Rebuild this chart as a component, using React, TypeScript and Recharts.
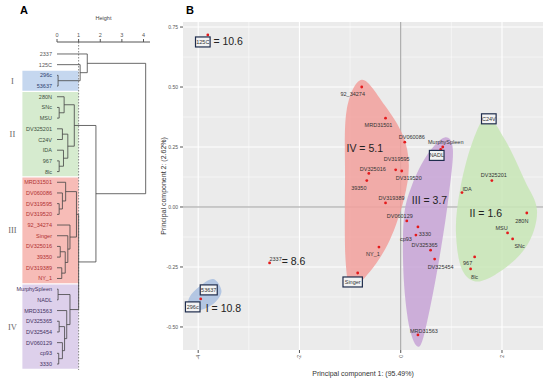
import React from "react";
import {
  ScatterChart,
  Scatter,
  XAxis,
  YAxis,
  CartesianGrid,
  ReferenceArea,
  ReferenceLine,
} from "recharts";

// ---- panel A: dendrogram ----
const leafNames = [
  "2337", "125C", "296c", "53637",
  "280N", "SNc", "MSU", "DV325201", "C24V", "IDA", "967", "8lc",
  "MRD31501", "DV060086", "DV319595", "DV319520", "92_34274", "Singer",
  "DV325016", "39350", "DV319389", "NY_1",
  "MurphySpleen", "NADL", "MRD31563", "DV325365", "DV325454", "DV060129", "cp93", "3330",
];

// hclust-like merges: leaf name or index of an earlier merge, then merge height
const merges: [string | number, string | number, number][] = [
  ["296c", "53637", 0.05], // 0
  ["125C", 0, 1.07], // 1
  ["2337", 1, 1.4], // 2
  ["SNc", "MSU", 0.1], // 3
  ["280N", 3, 0.33], // 4
  ["DV325201", "C24V", 0.25], // 5
  ["967", "8lc", 0.1], // 6
  ["IDA", 6, 0.3], // 7
  [5, 7, 0.5], // 8
  [4, 8, 0.8], // 9
  ["DV319595", "DV319520", 0.1], // 10
  ["DV060086", 10, 0.25], // 11
  ["MRD31501", 11, 0.4], // 12
  ["DV325016", "39350", 0.15], // 13
  ["DV319389", "NY_1", 0.22], // 14
  [13, 14, 0.38], // 15
  ["Singer", 15, 0.5], // 16
  ["92_34274", 16, 0.6], // 17
  [12, 17, 0.9], // 18
  ["MurphySpleen", "NADL", 0.05], // 19
  ["DV325365", "DV325454", 0.1], // 20
  ["cp93", "3330", 0.08], // 21
  ["DV060129", 21, 0.25], // 22
  [20, 22, 0.35], // 23
  ["MRD31563", 23, 0.45], // 24
  [19, 24, 0.6], // 25
  [18, 25, 1.0], // 26
  [9, 26, 1.8], // 27
  [2, 27, 4.1], // 28
];

const heightTicks = [0, 1, 2, 3, 4];
const bandNames = ["I", "II", "III", "IV"];
const bandFirst = ["296c", "280N", "MRD31501", "MurphySpleen"];
const bandLast = ["53637", "8lc", "NY_1", "3330"];
const cutHeight = 1;

// ---- panel B: PCA ----
const pcaNames = [
  "125C", "92_34274", "MRD31501", "DV060086", "MurphySpleen", "NADL", "DV319595",
  "DV325016", "DV319520", "39350", "C24V", "DV325201", "IDA", "DV319389", "DV060129",
  "3330", "cp93", "DV325365", "DV325454", "NY_1", "Singer", "MRD31563", "280N", "MSU",
  "SNc", "967", "8lc", "2337", "53637", "296c",
];
const pc1 = [
  -3.81, -0.77, -0.3, 0.08, 0.83, 0.79, -0.1,
  -0.63, 0.02, -0.67, 1.74, 1.8, 1.21, -0.3, 0.12,
  0.34, 0.3, 0.59, 0.67, -0.43, -0.85, 0.34, 2.49, 2.11,
  2.21, 1.46, 1.38, -2.59, -3.93, -3.95,
];
const pc2 = [
  0.717, 0.5, 0.37, 0.27, 0.25, 0.24, 0.155,
  0.14, 0.15, 0.11, 0.355, 0.11, 0.06, 0.017, -0.058,
  -0.083, -0.117, -0.18, -0.217, -0.167, -0.275, -0.533, -0.025, -0.108,
  -0.133, -0.208, -0.258, -0.233, -0.358, -0.383,
];
const boxedNames = ["125C", "53637", "296c", "Singer", "NADL", "C24V"];

const hullIV: [number, number][] = [
  [-0.77, 0.53], [-0.32, 0.425], [0.04, 0.3], [0.16, 0.175], [0.06, 0.03], [-0.22, -0.14],
  [-0.61, -0.27], [-0.97, -0.33], [-1.09, -0.22], [-1.1, 0.11], [-1.07, 0.4],
];
const hullIII: [number, number][] = [
  [0.87, 0.29], [1.03, 0.24], [0.95, 0.05], [0.79, -0.18], [0.57, -0.43], [0.375, -0.58],
  [0.18, -0.51], [0.06, -0.3], [0.06, -0.05], [0.22, 0.09], [0.53, 0.22],
];
const hullII: [number, number][] = [
  [1.7, 0.375], [2.06, 0.28], [2.45, 0.11], [2.69, -0.01], [2.55, -0.14], [2.15, -0.24],
  [1.56, -0.31], [1.21, -0.26], [1.09, -0.1], [1.17, 0.07], [1.4, 0.26],
];
const hullI: [number, number][] = [
  [-3.7, -0.3], [-3.54, -0.35], [-3.68, -0.4], [-3.97, -0.43], [-4.19, -0.42], [-4.17, -0.375], [-3.97, -0.33],
];

const noteText = ["= 10.6", "= 8.6", "I = 10.8", "IV = 5.1", "III = 3.7", "II = 1.6"];
const noteX = [-3.7, -2.35, -3.85, -1.07, 0.22, 1.36];
const noteY = [0.69, -0.225, -0.42, 0.245, 0.03, -0.025];

const pc1Ticks = [-4, -2, 0, 2];
const pc1Minor = [-3, -1, 1];
const pc2Ticks = [-0.5, -0.25, 0, 0.25, 0.5, 0.75];
const pc2Minor = [-0.375, -0.125, 0.125, 0.375, 0.625];

// styles
const bandFill = ["#c5d7ef", "#d6ebcf", "#f7bcb7", "#ddd0eb"];
const bandText = ["#2c3e6e", "#3d4f3d", "#b03030", "#43305f"];
const hullFill = ["#a9c0e0", "#c8e6b6", "#c7a3d6", "#f2a09c"];
const labelOffset: Record<string, [number, number]> = {
  "125C": [-5, 7], "92_34274": [-9, 7], MRD31501: [-7, 7], DV060086: [7, -5],
  MurphySpleen: [3, -5], NADL: [-4, 6], DV319595: [1, -11], DV325016: [4, -4],
  DV319520: [7, 7], "39350": [-8, 7], C24V: [0, -3], DV325201: [2, -6], IDA: [5, -4],
  DV319389: [6, -5], DV060129: [-7, -5], "3330": [7, 7], cp93: [-10, 4],
  DV325365: [-6, -5], DV325454: [6, 8], NY_1: [-6, 7], Singer: [-5, 9],
  MRD31563: [6, -4], "280N": [-5, 8], MSU: [-6, -5], SNc: [7, 7], "967": [-7, 6],
  "8lc": [4, 8], "2337": [6, -4], "53637": [7, -3], "296c": [-8, 8],
};
const font = "'Liberation Sans Narrow', 'Liberation Sans', Arial, sans-serif";

// dendrogram geometry from merges
const nodeY: number[] = [];
const refY = (r: string | number) => (typeof r === "string" ? leafNames.indexOf(r) : nodeY[r]);
const refH = (r: string | number) => (typeof r === "string" ? 0 : merges[r][2]);
merges.forEach(([a, b], i) => {
  nodeY[i] = (refY(a) + refY(b)) / 2;
});
const segments = merges.map(([a, b, h]) => [
  { h: refH(a), y: refY(a) },
  { h, y: refY(a) },
  { h, y: refY(b) },
  { h: refH(b), y: refY(b) },
]);
const leafBand = (i: number) =>
  bandFirst.findIndex((f, k) => i >= leafNames.indexOf(f) && i <= leafNames.indexOf(bandLast[k]));

const closedSpline = (pts: { x: number; y: number }[]) => {
  const n = pts.length;
  let d = `M${pts[0].x},${pts[0].y}`;
  for (let i = 0; i < n; i++) {
    const p0 = pts[(i - 1 + n) % n];
    const p1 = pts[i];
    const p2 = pts[(i + 1) % n];
    const p3 = pts[(i + 2) % n];
    d += ` C${p1.x + (p2.x - p0.x) / 6},${p1.y + (p2.y - p0.y) / 6} ${p2.x - (p3.x - p1.x) / 6},${p2.y - (p3.y - p1.y) / 6} ${p2.x},${p2.y}`;
  }
  return d + "Z";
};

const LeafTick = ({ x, y, payload }: any) => {
  const b = leafBand(payload.value);
  return (
    <text x={x} y={y} textAnchor="end" dominantBaseline="central" fontSize={5.5}
      fill={b >= 0 ? bandText[b] : "#555"}>
      {leafNames[payload.value]}
    </text>
  );
};

const RotTick = ({ x, y, payload }: any) => (
  <text transform={`translate(${x},${y}) rotate(-90)`} textAnchor="end" dominantBaseline="central"
    fontSize={5} fill="#555">
    {payload.value}
  </text>
);

const BandLabel = ({ viewBox, value }: any) => (
  <text x={viewBox.x - 10} y={viewBox.y + viewBox.height / 2} textAnchor="middle"
    dominantBaseline="central" fontSize={8.5}
    style={{ fill: "#6a6a6a", fontFamily: "'Liberation Serif', 'DejaVu Serif', serif" }}>
    {value}
  </text>
);

const PointMark = ({ cx, cy, payload }: any) => {
  const [dx, dy] = labelOffset[payload.name] || [0, -5];
  const boxed = boxedNames.includes(payload.name);
  const w = payload.name.length * 2.4 + 5;
  return (
    <g>
      <circle cx={cx} cy={cy} r={1.4} fill="#e41a1c" />
      {boxed && (
        <rect x={cx + dx - w / 2} y={cy + dy - 5} width={w} height={10} fill="#f3f3f3"
          stroke="#1f2d4d" strokeWidth={1.2} />
      )}
      <text x={cx + dx} y={cy + dy} textAnchor="middle" dominantBaseline="central" fontSize={5.5}
        fill="#333">
        {payload.name}
      </text>
    </g>
  );
};

const NoteMark = ({ cx, cy, payload }: any) => (
  <text x={cx} y={cy} dominantBaseline="central" fontSize={10.5} fill="#222">
    {payload.text}
  </text>
);

const hulls = [hullI, hullII, hullIII, hullIV];

export default function App() {
  const points = pcaNames.map((name, i) => ({ x: pc1[i], y: pc2[i], name }));
  const notes = noteText.map((text, i) => ({ x: noteX[i], y: noteY[i], text }));
  return (
    <div style={{ position: "absolute", left: 0, top: 0, width: 550, height: 379, background: "#fff", fontFamily: font }}>
      <div style={{ position: "absolute", left: 20, top: 4, fontSize: 11, fontWeight: "bold", fontFamily: "Arial, sans-serif" }}>A</div>
      <div style={{ position: "absolute", left: 186, top: 4, fontSize: 11, fontWeight: "bold", fontFamily: "Arial, sans-serif" }}>B</div>

      <div style={{ position: "absolute", left: 0, top: 0 }}>
        <ScatterChart width={160} height={379} margin={{ top: 12, right: 10, bottom: 9, left: 0 }}>
          {bandNames.map((name, k) => (
            <ReferenceArea key={name} x1={-1.6} x2={cutHeight}
              y1={leafNames.indexOf(bandFirst[k]) - 0.44} y2={leafNames.indexOf(bandLast[k]) + 0.44}
              fill={bandFill[k]} fillOpacity={1} stroke="none" ifOverflow="visible"
              label={(p: any) => <BandLabel {...p} value={name} />} />
          ))}
          <XAxis type="number" dataKey="h" orientation="top" domain={[0, 4.3]} ticks={heightTicks}
            height={30} tickSize={3} tick={{ fontSize: 5.5, fill: "#555" }}
            axisLine={{ stroke: "#555" }} tickLine={{ stroke: "#555" }}
            label={{ value: "Height", position: "insideTop", offset: 4, fontSize: 5.5, fill: "#444" }} />
          <YAxis type="number" dataKey="y" domain={[-1.12, 29.56]} reversed ticks={leafNames.map((_, i) => i)}
            interval={0} width={57} tickSize={4} tickMargin={1} axisLine={false} tickLine={false}
            tick={<LeafTick />} />
          <ReferenceLine x={cutHeight} stroke="#888" strokeDasharray="1.5 1.5" />
          {segments.map((seg, i) => (
            <Scatter key={i} data={seg} shape={() => <g />} line={{ stroke: "#444", strokeWidth: 0.8 }}
              isAnimationActive={false} />
          ))}
        </ScatterChart>
      </div>

      <div style={{ position: "absolute", left: 150, top: 0 }}>
        <ScatterChart width={400} height={379} margin={{ top: 22, right: 7, bottom: 0, left: 0 }}>
          <CartesianGrid fill="#ebebeb" stroke="#fff" strokeWidth={1.1}
            verticalValues={pc1Ticks} horizontalValues={pc2Ticks} />
          <CartesianGrid stroke="#fff" strokeWidth={0.5} verticalValues={pc1Minor} horizontalValues={pc2Minor} />
          <XAxis type="number" dataKey="x" domain={[-4.3, 2.81]} ticks={pc1Ticks} allowDataOverflow
            height={29} tickSize={3} axisLine={false} tickLine={{ stroke: "#555" }} tick={<RotTick />}
            label={{ value: "Principal component 1: (95.49%)", position: "insideBottom", offset: 3, fontSize: 7, fill: "#333" }} />
          <YAxis type="number" dataKey="y" domain={[-0.596, 0.771]} ticks={pc2Ticks} allowDataOverflow
            width={33} tickSize={3} axisLine={false} tickLine={{ stroke: "#555" }}
            tickFormatter={(v: number) => v.toFixed(2)} tick={{ fontSize: 5, fill: "#555" }}
            label={{ value: "Principal component 2: (2.62%)", angle: -90, position: "insideLeft", offset: 14,
              style: { textAnchor: "middle", fontSize: 7, fill: "#333" } }} />
          {hulls.map((h, k) => (
            <Scatter key={`hull${k}`} data={h.map(([x, y]) => ({ x, y }))} shape={() => <g />}
              line={(p: any) => <path d={closedSpline(p.points)} fill={hullFill[k]} fillOpacity={0.85} stroke="none" />}
              isAnimationActive={false} />
          ))}
          <ReferenceLine x={0} stroke="#9a9a9a" />
          <ReferenceLine y={0} stroke="#9a9a9a" />
          <Scatter data={points} shape={(p: any) => <PointMark {...p} />} isAnimationActive={false} />
          <Scatter data={notes} shape={(p: any) => <NoteMark {...p} />} isAnimationActive={false} />
        </ScatterChart>
      </div>
    </div>
  );
}
